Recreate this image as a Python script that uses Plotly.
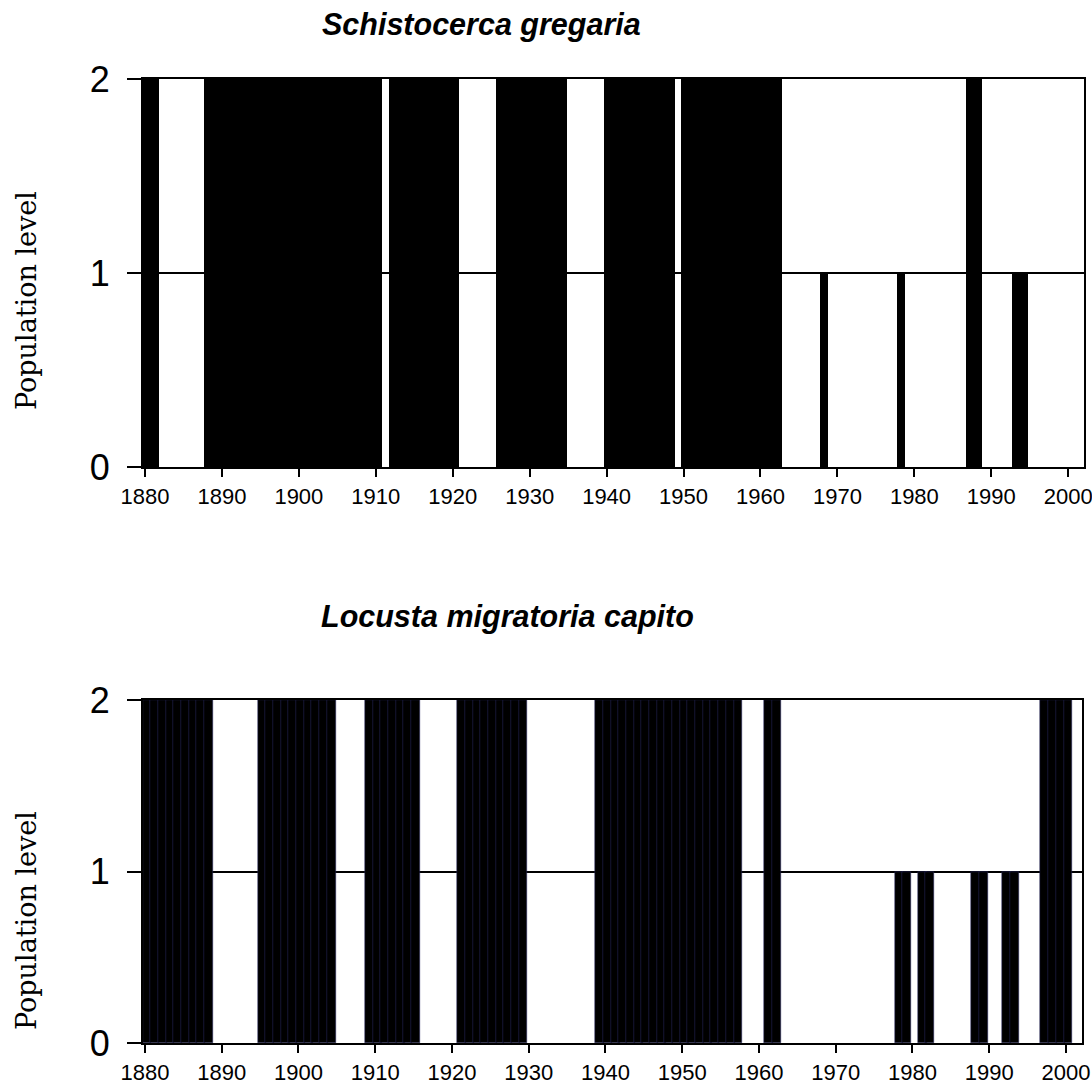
import plotly.graph_objects as go

# ---------------- data ----------------
years = list(range(1880, 2002))  # one category per year, 1880-2001

# Population level per year, one row per decade
sg_levels = (
    [2, 2, 0, 0, 0, 0, 0, 0, 2, 2]      # 1880s
    + [2, 2, 2, 2, 2, 2, 2, 2, 2, 2]    # 1890s
    + [2, 2, 2, 2, 2, 2, 2, 2, 2, 2]    # 1900s
    + [2, 0, 2, 2, 2, 2, 2, 2, 2, 2]    # 1910s
    + [2, 0, 0, 0, 0, 0, 2, 2, 2, 2]    # 1920s
    + [2, 2, 2, 2, 2, 0, 0, 0, 0, 0]    # 1930s
    + [2, 2, 2, 2, 2, 2, 2, 2, 2, 0]    # 1940s
    + [2, 2, 2, 2, 2, 2, 2, 2, 2, 2]    # 1950s
    + [2, 2, 2, 0, 0, 0, 0, 0, 1, 0]    # 1960s
    + [0, 0, 0, 0, 0, 0, 0, 0, 1, 0]    # 1970s
    + [0, 0, 0, 0, 0, 0, 0, 2, 2, 0]    # 1980s
    + [0, 0, 0, 1, 1, 0, 0, 0, 0, 0]    # 1990s
    + [0, 0]                            # 2000-2001
)

lm_levels = (
    [2, 2, 2, 2, 2, 2, 2, 2, 2, 0]      # 1880s
    + [0, 0, 0, 0, 0, 2, 2, 2, 2, 2]    # 1890s
    + [2, 2, 2, 2, 2, 0, 0, 0, 0, 2]    # 1900s
    + [2, 2, 2, 2, 2, 2, 0, 0, 0, 0]    # 1910s
    + [0, 2, 2, 2, 2, 2, 2, 2, 2, 2]    # 1920s
    + [0, 0, 0, 0, 0, 0, 0, 0, 0, 2]    # 1930s
    + [2, 2, 2, 2, 2, 2, 2, 2, 2, 2]    # 1940s
    + [2, 2, 2, 2, 2, 2, 2, 2, 0, 0]    # 1950s
    + [0, 2, 2, 0, 0, 0, 0, 0, 0, 0]    # 1960s
    + [0, 0, 0, 0, 0, 0, 0, 0, 1, 1]    # 1970s
    + [0, 1, 1, 0, 0, 0, 0, 0, 1, 1]    # 1980s
    + [0, 0, 1, 1, 0, 0, 0, 2, 2, 2]    # 1990s
    + [2, 0]                            # 2000-2001
)

titles = ["Schistocerca gregaria", "Locusta migratoria capito"]
y_title = "Population level"
x_ticks = [1880, 1890, 1900, 1910, 1920, 1930, 1940, 1950, 1960, 1970, 1980, 1990, 2000]
y_ticks = [0, 1, 2]

# ---------------- figure ----------------
W, H = 1092, 1091
ML, MR, MT, MB = 143, 8, 79, 48
PW, PH = W - ML - MR, H - MT - MB

fig = go.Figure()


def nz(levels):
    xs = [y for y, v in zip(years, levels) if v > 0]
    vs = [v for v in levels if v > 0]
    return xs, vs


outline_color = ["black", "rgb(45,45,105)"]
outline_width = [0, 0.5]
for i, lev in enumerate([sg_levels, lm_levels]):
    xs, vs = nz(lev)
    suffix = "" if i == 0 else "2"
    fig.add_trace(go.Bar(
        x=xs, y=vs, width=1.15, offset=-0.32,
        marker=dict(color="black", line=dict(color=outline_color[i], width=outline_width[i])),
        xaxis="x" + suffix, yaxis="y" + suffix, showlegend=False,
        hoverinfo="x+y",
    ))


def fx(p):  # pixel -> plot-area fraction (x)
    return (p - ML) / PW


def fy(p):  # pixel -> plot-area fraction (y)
    return 1 - (p - MT) / PH


x_range = [1879.74, 2002.05]
xaxis_common = dict(
    range=x_range, tickvals=x_ticks, ticktext=[str(t) for t in x_ticks],
    showline=True, linecolor="black", linewidth=2, mirror=True,
    ticks="outside", ticklen=8, tickwidth=2, tickcolor="black",
    showgrid=False, zeroline=False, automargin=False,
    tickfont=dict(family="Liberation Sans, Arial, sans-serif", size=22, color="black"),
    ticklabelstandoff=1, ticklabeloverflow="allow",
)
yaxis_common = dict(
    range=[0, 2], tickvals=y_ticks, ticktext=[str(t) for t in y_ticks],
    showline=True, linecolor="black", linewidth=2, mirror=True,
    ticks="outside", ticklen=14, tickwidth=2, tickcolor="black",
    showgrid=True, gridcolor="black", gridwidth=2, zeroline=False, automargin=False,
    tickfont=dict(family="Liberation Sans, Arial, sans-serif", size=36, color="black"),
    ticklabelstandoff=10, ticklabeloverflow="allow",
)

fig.update_layout(
    width=W, height=H,
    margin=dict(l=ML, r=MR, t=MT, b=MB, autoexpand=False),
    paper_bgcolor="white", plot_bgcolor="white",
    bargap=0,
    xaxis=dict(domain=[fx(143), fx(1084)], anchor="y", **xaxis_common),
    yaxis=dict(domain=[fy(467), fy(79)], anchor="x", **yaxis_common),
    xaxis2=dict(domain=[fx(143), fx(1081.7)], anchor="y2", **xaxis_common),
    yaxis2=dict(domain=[fy(1043), fy(700)], anchor="x2", **yaxis_common),
)

# titles
title_font = dict(family="Liberation Sans, Arial, sans-serif", size=30.5, color="black")
fig.add_annotation(text="<b><i>" + titles[0] + "</i></b>", xref="paper", yref="paper",
                   x=fx(481), y=fy(25), xanchor="center", yanchor="middle",
                   showarrow=False, font=title_font)
fig.add_annotation(text="<b><i>" + titles[1] + "</i></b>", xref="paper", yref="paper",
                   x=fx(507), y=fy(616), xanchor="center", yanchor="middle",
                   showarrow=False, font=title_font)

# y-axis titles
ylab_font = dict(family="DejaVu Serif, serif", size=27, color="black")
for yc in [301, 921]:
    fig.add_annotation(text=y_title, xref="paper", yref="paper",
                       x=fx(26), y=fy(yc), xanchor="center", yanchor="middle",
                       textangle=-90, showarrow=False, font=ylab_font)

fig.write_html(
    "out.html",
    config={"displayModeBar": False},
    post_script="document.body.style.margin='0';document.body.style.overflow='hidden';",
)
